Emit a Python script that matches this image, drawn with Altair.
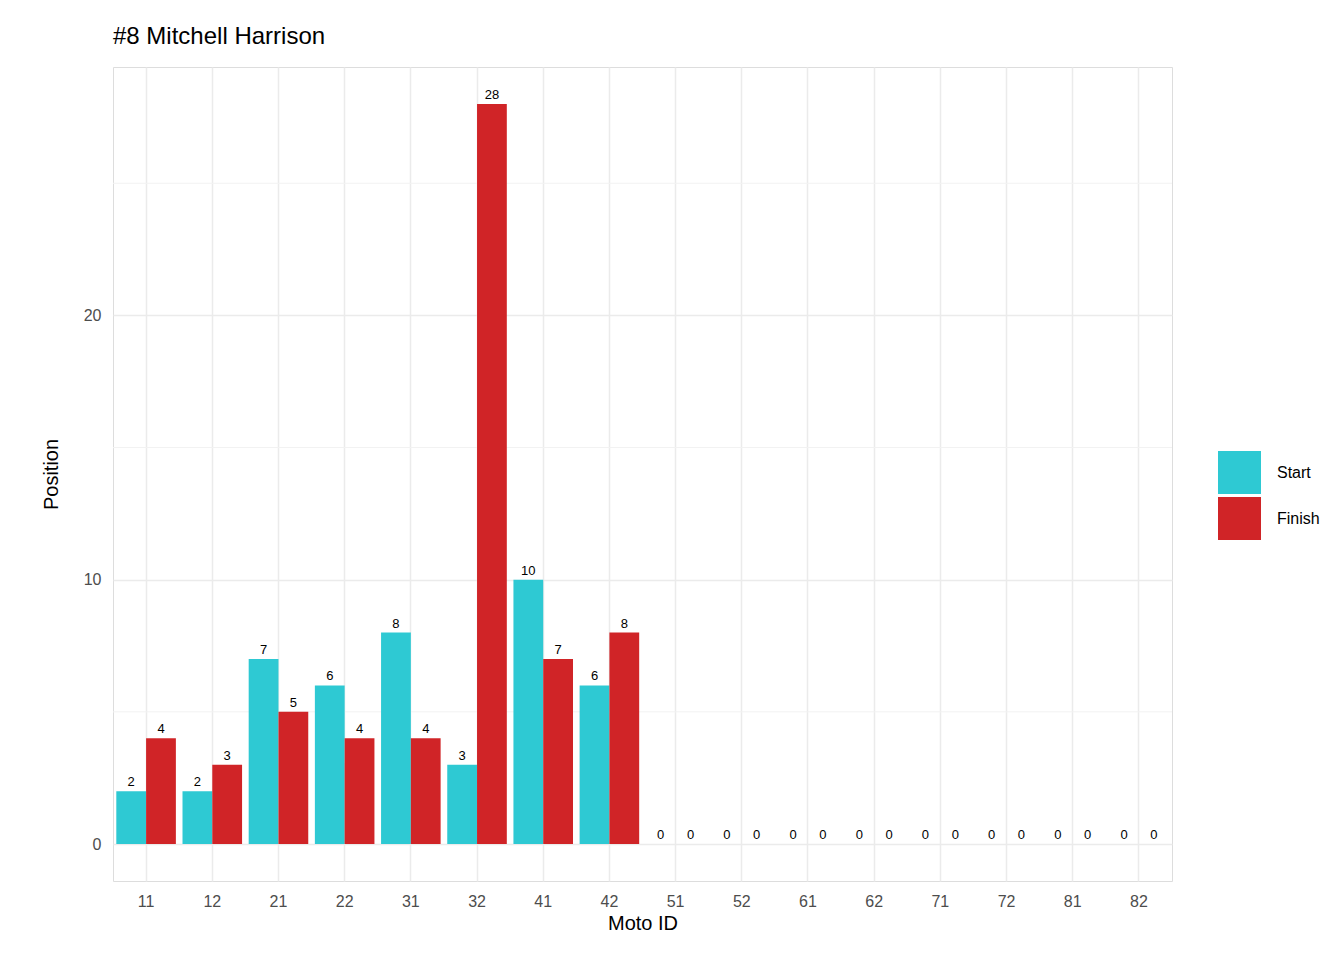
import altair as alt
import pandas as pd

moto_ids = ["11","12","21","22","31","32","41","42","51","52","61","62","71","72","81","82"]
start = [2,2,7,6,8,3,10,6,0,0,0,0,0,0,0,0]
finish = [4,3,5,4,4,28,7,8,0,0,0,0,0,0,0,0]

rows = []
for m, s, f in zip(moto_ids, start, finish):
    rows.append({"moto": m, "type": "Start", "pos": s})
    rows.append({"moto": m, "type": "Finish", "pos": f})
df = pd.DataFrame(rows)
minor = pd.DataFrame({"y": [5, 15, 25]})

x = alt.X("moto:N", sort=moto_ids, title="Moto ID",
          scale=alt.Scale(paddingInner=0.1, paddingOuter=0.05),
          axis=alt.Axis(labelAngle=0, grid=True, bandPosition=0.5, ticks=False,
                        domain=False, gridColor="#EBEBEB", gridWidth=1.5,
                        labelFontSize=16, labelColor="#4D4D4D", titleFontSize=20,
                        titleFontWeight="normal", labelPadding=12, titlePadding=4))
yscale = alt.Scale(domain=[-1.4, 29.4], nice=False, zero=False)
y = alt.Y("pos:Q", title="Position", scale=yscale,
          axis=alt.Axis(values=[0, 10, 20], grid=True, ticks=False, domain=False,
                        gridColor="#EBEBEB", gridWidth=1.5, labelFontSize=16,
                        labelColor="#4D4D4D", titleFontSize=20,
                        titleFontWeight="normal", labelPadding=12, titlePadding=22))
order = ["Start", "Finish"]
color = alt.Color("type:N", sort=order, title=None,
                  scale=alt.Scale(domain=order, range=["#2EC9D3", "#D02427"]),
                  legend=alt.Legend(symbolType="square", symbolSize=1849,
                                    symbolStrokeWidth=0, labelFontSize=16,
                                    rowPadding=3, orient="none", legendX=1105,
                                    legendY=384, labelOffset=16))

minor_rules = alt.Chart(minor).mark_rule(color="#F2F2F2", strokeWidth=1).encode(
    y=alt.Y("y:Q", scale=yscale))
bars = alt.Chart(df).mark_bar().encode(
    x=x, xOffset=alt.XOffset("type:N", sort=order,
                             scale=alt.Scale(paddingInner=0, paddingOuter=0)),
    y=y, y2=alt.datum(0), color=color)
text = alt.Chart(df).mark_text(dy=-9, fontSize=13, color="black").encode(
    x=alt.X("moto:N", sort=moto_ids),
    xOffset=alt.XOffset("type:N", sort=order),
    y=alt.Y("pos:Q", scale=yscale), text="pos:Q")

chart = alt.layer(minor_rules, bars, text).properties(
    width=1059, height=814,
    padding={"left": 33, "top": 17, "right": 5, "bottom": 5},
    title=alt.TitleParams("#8 Mitchell Harrison", anchor="start", fontSize=24,
                          fontWeight="normal", offset=18, frame="group"),
).configure_view(strokeWidth=0).configure(font="Liberation Sans")

chart.save("out.html", embed_options={"renderer": "svg", "actions": False})
